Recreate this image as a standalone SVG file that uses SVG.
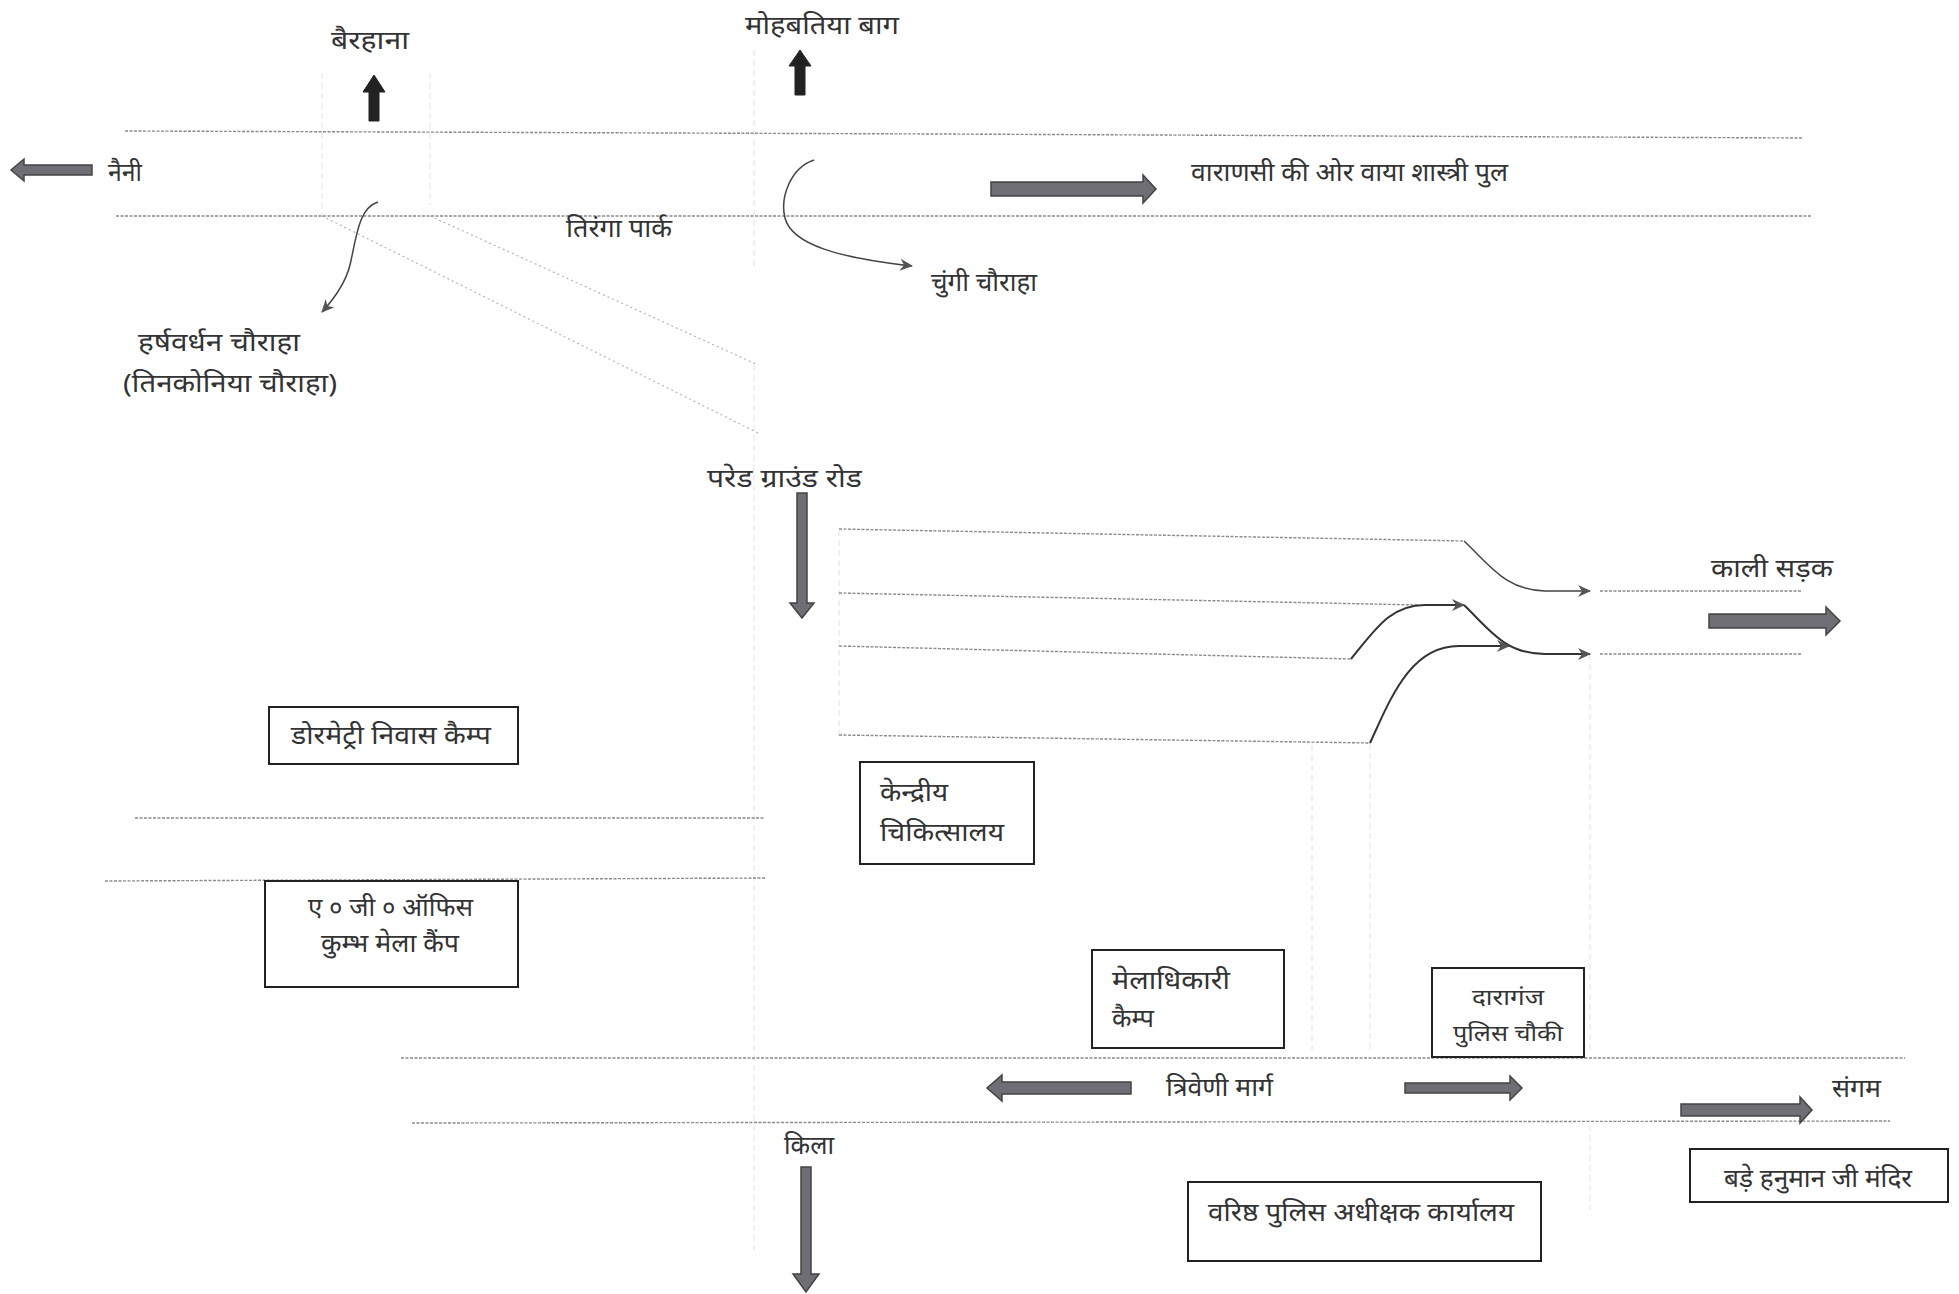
<svg xmlns="http://www.w3.org/2000/svg" width="1959" height="1294" viewBox="0 0 1959 1294">
<style>
text{font-family:"Noto Sans","Noto Sans Devanagari","Lohit Devanagari","Liberation Sans",sans-serif;font-size:26px;fill:#333}
.small{font-size:22px}
.box{fill:#fff;stroke:#222;stroke-width:2}
.road{fill:none;stroke:#8a8a8a;stroke-width:1.4;stroke-dasharray:3 1.5}
.faint{fill:none;stroke:#e2e2e2;stroke-width:1;stroke-dasharray:6 4}
.diag{fill:none;stroke:#b4b4b4;stroke-width:1.2;stroke-dasharray:2 3}
.curve{fill:none;stroke:#444;stroke-width:1.5}
.curved{fill:none;stroke:#333;stroke-width:2}
.block{fill:#6e6e74;stroke:#444;stroke-width:1.5}
.blackb{fill:#222;stroke:#222;stroke-width:1}
</style>
<defs>
<marker id="tip" markerWidth="14" markerHeight="12" refX="12" refY="6" orient="auto" markerUnits="userSpaceOnUse"><path d="M0 0L13 6L0 12L4 6Z" fill="#555"/></marker>
</defs>
<rect width="1959" height="1294" fill="#fff"/>
<g id="connectors">
<path class="faint" d="M322 73V216M430 73V205M754 50V270M754 365V1250M839 530V740M1370 743V1050M1590 654V1050M1312 745V1050M1590 1125V1210"/>
<path class="road" d="M125 131L940 134L1803 138"/>
<path class="road" d="M116 216H1812"/>
<path class="diag" d="M322 216L758 433M430 216L758 365"/>
<path class="curve" marker-end="url(#tip)" d="M378 202C358 208 356 240 350 265C345 285 333 300 322 312"/>
<path class="curve" marker-end="url(#tip)" d="M814 160C790 168 780 198 785 218C792 245 840 258 912 266"/>
<path class="road" d="M839 529L1464 541"/>
<path class="curve" marker-end="url(#tip)" d="M1464 541C1490 565 1505 590 1545 591H1590"/>
<path class="road" d="M1600 591H1801"/>
<path class="road" d="M839 593L1419 605"/>
<path class="curved" marker-end="url(#tip)" d="M1464 605C1490 630 1505 654 1545 654H1590"/>
<path class="road" d="M1600 654H1801"/>
<path class="road" d="M839 646L1351 659"/>
<path class="curved" marker-end="url(#tip)" d="M1351 659C1375 630 1390 605 1425 605H1464"/>
<path class="road" d="M839 735L1370 743"/>
<path class="curved" marker-end="url(#tip)" d="M1370 743C1390 700 1410 645 1460 646L1509 646"/>
<path class="road" d="M135 818H765"/>
<path class="road" d="M105 881L765 878"/>
<path class="road" d="M401 1058H1905"/>
<path class="road" d="M412 1123L1890 1121"/>
<g id="direction-arrows">
<path class="blackb" d="M369 121V92H363L374 75L385 92H379V121Z"/>
<path class="blackb" d="M795 95V66H789L800 50L811 66H805V95Z"/>
<path class="block" d="M92 165V175H24V181L11 170L24 159V165Z"/>
<path class="block" d="M991 182H1143V175L1156 189L1143 203V196H991Z"/>
<path class="block" d="M797 493H807V603H814L802 618L790 603H797Z"/>
<path class="block" d="M1709 614H1826V607L1840 621L1826 635V628H1709Z"/>
<path class="block" d="M1131 1082V1094H1002V1101L987 1088L1002 1075V1082Z"/>
<path class="block" d="M1405 1083H1510V1076L1522 1088L1510 1100V1093H1405Z"/>
<path class="block" d="M1681 1104H1800V1097L1812 1110L1800 1123V1116H1681Z"/>
<path class="block" d="M801 1167H811V1274H819L806 1292L793 1274H801Z"/>
</g>
</g>
<g id="labels">
<text x="331" y="49" textLength="78" lengthAdjust="spacingAndGlyphs">बैरहाना</text>
<text x="745" y="34" textLength="154" lengthAdjust="spacingAndGlyphs">मोहबतिया बाग</text>
<text x="108" y="181" textLength="34" lengthAdjust="spacingAndGlyphs">नैनी</text>
<text x="1191" y="181" textLength="317" lengthAdjust="spacingAndGlyphs">वाराणसी की ओर वाया शास्त्री पुल</text>
<text x="566" y="237" textLength="106" lengthAdjust="spacingAndGlyphs">तिरंगा पार्क</text>
<text x="931" y="291" textLength="106" lengthAdjust="spacingAndGlyphs">चुंगी चौराहा</text>
<text x="138" y="351" textLength="162" lengthAdjust="spacingAndGlyphs">हर्षवर्धन चौराहा</text>
<text x="123" y="392" textLength="214" lengthAdjust="spacingAndGlyphs">(तिनकोनिया चौराहा)</text>
<text x="707" y="487" textLength="155" lengthAdjust="spacingAndGlyphs">परेड ग्राउंड रोड</text>
<text x="1711" y="577" textLength="122" lengthAdjust="spacingAndGlyphs">काली सड़क</text>
<text x="1166" y="1096" textLength="107" lengthAdjust="spacingAndGlyphs">त्रिवेणी मार्ग</text>
<text x="1832" y="1097" textLength="49" lengthAdjust="spacingAndGlyphs">संगम</text>
<text x="784" y="1154" textLength="50" lengthAdjust="spacingAndGlyphs">किला</text>
</g>
<g id="node-dormitory"><rect class="box" x="269" y="707" width="249" height="57"/><text x="291" y="744" textLength="200" lengthAdjust="spacingAndGlyphs">डोरमेट्री निवास कैम्प</text></g>
<g id="node-ag-office"><rect class="box" x="265" y="881" width="253" height="106"/><text x="308" y="916" textLength="165" lengthAdjust="spacingAndGlyphs">ए ० जी ० ऑफिस</text><text x="321" y="952" textLength="138" lengthAdjust="spacingAndGlyphs">कुम्भ मेला कैंप</text></g>
<g id="node-hospital"><rect class="box" x="860" y="762" width="174" height="102"/><text x="880" y="801" textLength="68" lengthAdjust="spacingAndGlyphs">केन्द्रीय</text><text x="880" y="841" textLength="124" lengthAdjust="spacingAndGlyphs">चिकित्सालय</text></g>
<g id="node-mela-officer"><rect class="box" x="1092" y="950" width="192" height="98"/><text x="1112" y="989" textLength="118" lengthAdjust="spacingAndGlyphs">मेलाधिकारी</text><text x="1112" y="1027" textLength="42" lengthAdjust="spacingAndGlyphs">कैम्प</text></g>
<g id="node-daraganj"><rect class="box" x="1432" y="968" width="152" height="89"/><text class="small" x="1472" y="1005" textLength="72" lengthAdjust="spacingAndGlyphs">दारागंज</text><text class="small" x="1453" y="1041" textLength="110" lengthAdjust="spacingAndGlyphs">पुलिस चौकी</text></g>
<g id="node-ssp"><rect class="box" x="1188" y="1182" width="353" height="79"/><text x="1208" y="1221" textLength="306" lengthAdjust="spacingAndGlyphs">वरिष्ठ पुलिस अधीक्षक कार्यालय</text></g>
<g id="node-hanuman"><rect class="box" x="1690" y="1149" width="258" height="53"/><text x="1724" y="1187" textLength="188" lengthAdjust="spacingAndGlyphs">बड़े हनुमान जी मंदिर</text></g>
</svg>
